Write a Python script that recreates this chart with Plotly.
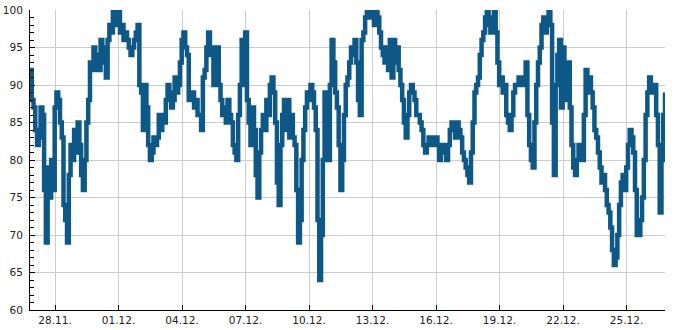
import pandas as pd
import plotly.graph_objects as go

# Sampled readings, every 2 hours starting 26.11. 19:35 (12 values per day)
start_time = "2023-11-26 19:35"
step = "2h"
values = [
    92, 88, 87, 84, 82, 83, 87, 86, 76, 69, 79, 75,
    80, 76, 87, 89, 88, 85, 83, 74, 72, 69, 78, 82,
    80, 84, 81, 85, 82, 78, 76, 80, 85, 88, 93, 92,
    95, 92, 94, 92, 96, 93, 95, 91, 96, 98, 97, 100,
    98, 99, 100, 97, 98, 96, 97, 96, 95, 94, 95, 96,
    97, 98, 90, 89, 84, 90, 87, 82, 80, 81, 83, 82,
    83, 86, 84, 86, 85, 88, 90, 89, 87, 88, 91, 89,
    90, 93, 96, 97, 95, 94, 88, 88, 89, 87, 88, 86,
    86, 84, 91, 92, 95, 97, 94, 95, 90, 93, 95, 90,
    88, 86, 87, 85, 88, 86, 85, 82, 81, 80, 86, 90,
    96, 90, 97, 88, 85, 82, 87, 84, 78, 75, 81, 84,
    86, 84, 88, 86, 90, 91, 89, 85, 77, 74, 82, 86,
    88, 84, 88, 83, 86, 83, 82, 76, 69, 72, 80, 84,
    87, 89, 88, 90, 89, 87, 84, 72, 64, 70, 80, 89,
    84, 80, 90, 96, 93, 89, 87, 82, 76, 80, 86, 90,
    91, 93, 95, 94, 96, 93, 88, 86, 96, 97, 99, 100,
    99, 100, 99, 98, 100, 99, 97, 95, 94, 93, 95, 92,
    96, 91, 96, 93, 95, 92, 90, 88, 85, 83, 86, 89,
    90, 89, 88, 86, 86, 85, 84, 82, 81, 82, 83, 83,
    82, 83, 83, 82, 80, 81, 82, 81, 80, 82, 84, 85,
    85, 83, 85, 84, 83, 81, 80, 79, 78, 77, 81, 85,
    89, 90, 91, 94, 96, 97, 99, 100, 98, 97, 99, 100,
    97, 93, 90, 91, 89, 90, 86, 85, 84, 86, 89, 90,
    90, 91, 90, 91, 90, 93, 86, 82, 80, 79, 85, 90,
    93, 95, 98, 99, 97, 99, 100, 98, 85, 78, 90, 94,
    96, 87, 95, 92, 88, 93, 87, 82, 79, 78, 80, 82,
    81, 80, 86, 92, 89, 91, 89, 87, 84, 83, 81, 79,
    77, 78, 76, 74, 73, 71, 68, 66, 67, 70, 74, 77,
    78, 76, 79, 82, 84, 83, 81, 76, 70, 70, 72, 75,
    80, 86, 89, 91, 90, 89, 90, 86, 82, 73, 80, 86,
    89,
]
tick_dates = ["2023-11-28", "2023-12-01", "2023-12-04", "2023-12-07", "2023-12-10",
              "2023-12-13", "2023-12-16", "2023-12-19", "2023-12-22", "2023-12-25"]
tick_labels = ["28.11.", "01.12.", "04.12.", "07.12.", "10.12.",
               "13.12.", "16.12.", "19.12.", "22.12.", "25.12."]
x_range = ["2023-11-26 19:35", "2023-12-26 19:35"]
y_range = [60, 100]

times = pd.date_range(start=start_time, periods=len(values), freq=step)

fig = go.Figure(go.Scatter(
    x=times, y=values, mode="lines",
    line=dict(color="#0d5886", width=4.5, shape="hv"),
    hoverinfo="skip",
))

fig.update_layout(
    width=685, height=330,
    margin=dict(l=30, r=20, t=10, b=20, autoexpand=False),
    paper_bgcolor="white", plot_bgcolor="white",
    showlegend=False,
    font=dict(family="DejaVu Sans", size=10.5, color="#222222"),
)
fig.update_xaxes(
    range=x_range,
    tickvals=tick_dates, ticktext=tick_labels,
    showgrid=True, gridcolor="#cccccc", gridwidth=1,
    showline=True, linecolor="black", linewidth=1,
    ticks="inside", ticklen=5, tickcolor="black",
    zeroline=False, automargin=False,
)
fig.update_yaxes(
    range=y_range, dtick=5, tick0=60,
    showgrid=True, gridcolor="#cccccc", gridwidth=1,
    showline=True, linecolor="black", linewidth=1,
    ticks="inside", ticklen=5, tickcolor="black",
    minor=dict(dtick=1, ticks="inside", ticklen=4, tickcolor="black", showgrid=False),
    ticklabelstandoff=4,
    zeroline=False, automargin=False,
)

fig.write_html("out.html")
